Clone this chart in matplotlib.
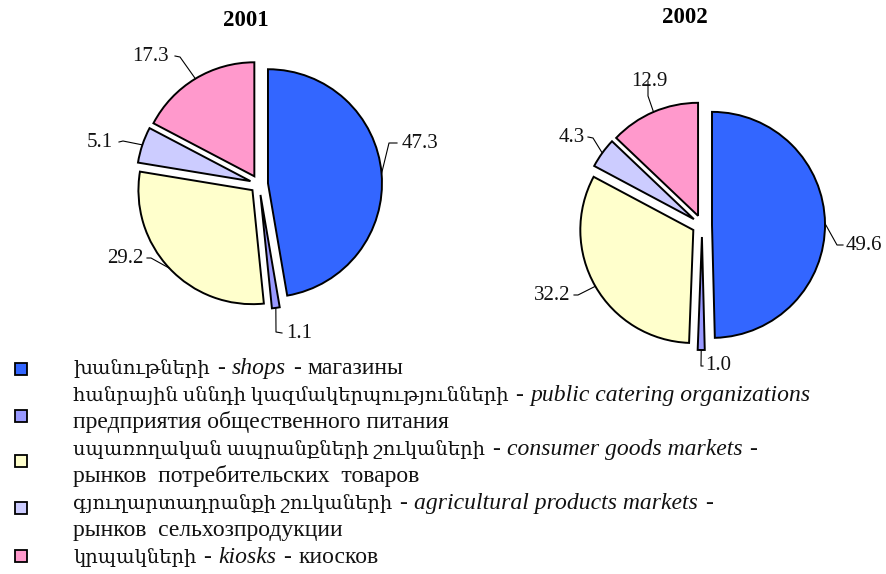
import matplotlib
matplotlib.use("Agg")
import numpy as np
import matplotlib.pyplot as plt
from matplotlib.patches import Rectangle

# shares, % (order: shops, catering, consumer goods mkts, agri mkts, kiosks)
vals_2001 = [47.3, 1.1, 29.2, 5.1, 17.3]
vals_2002 = [49.6, 1.0, 32.2, 4.3, 12.9]
years = ["2001", "2002"]
colors = ["#3366FF", "#9999FF", "#FFFFCC", "#CCCCFF", "#FF99CC"]

# legend rows: (text, kind) -> kind: "hy" armenian, "en" english italic, "ru" russian
legend_lines = [
    [("խանութների", "hy"), ("-", "ru"), ("shops", "en"), ("-", "ru"), ("магазины", "ru")],
    [("հանրային սննդի կազմակերպությունների", "hy"), ("-", "ru"),
     ("public catering organizations", "en")],
    [("предприятия общественного питания", "ru")],
    [("սպառողական ապրանքների շուկաների", "hy"), ("-", "ru"),
     ("consumer goods markets", "en"), ("-", "ru")],
    [("рынков  потребительских  товаров", "ru")],
    [("գյուղարտադրանքի շուկաների", "hy"), ("-", "ru"),
     ("agricultural products markets", "en"), ("-", "ru")],
    [("рынков  сельхозпродукции", "ru")],
    [("կրպակների", "hy"), ("-", "ru"), ("kiosks", "en"), ("-", "ru"), ("киосков", "ru")],
]

W, H = 887, 574
FONT = ["Liberation Serif", "DejaVu Serif"]
kind_style = {"hy": dict(fontsize=14, style="normal"),
              "ru": dict(fontsize=17, style="normal"),
              "en": dict(fontsize=17, style="italic")}

fig = plt.figure(figsize=(W / 100, H / 100), dpi=100)
ax = fig.add_axes([0, 0, 1, 1])


def Y(y):
    # pixel row -> data y
    return H - y


def draw_pie(vals, cx, cy, r, expl, labels_pos):
    wedges, _ = ax.pie(vals, colors=colors, startangle=90, counterclock=False,
                       center=(cx, Y(cy)), radius=r, explode=expl,
                       wedgeprops=dict(edgecolor="black", linewidth=1.4))
    for w, v, lp in zip(wedges, vals, labels_pos):
        (tx, ty, ha, ex, ey, kx) = lp
        mid = np.deg2rad((w.theta1 + w.theta2) / 2)
        px = w.center[0] + w.r * np.cos(mid)
        py = w.center[1] + w.r * np.sin(mid)
        ax.plot([px, ex, kx], [py, Y(ey), Y(ty)], color="black", lw=0.8)
        ax.text(tx, Y(ty), "%.1f" % v, ha=ha, va="center", fontsize=15,
                family=FONT, color="#111111")


# text x, text y, ha, elbow x, elbow y, tick end x
pos_2001 = [(402, 143, "left", 389, 143, 397),
            (286, 333, "left", 276, 332, 282),
            (144, 258, "right", 151, 258, 147),
            (113, 142, "right", 123, 141, 119),
            (169, 56, "right", 180, 57, 175)]
pos_2002 = [(846, 245, "left", 837, 245, 843),
            (705, 366, "left", 701, 366, 703),
            (570, 295, "right", 578, 295, 574),
            (585, 137, "right", 593, 138, 588),
            (649, 81, "center", 648, 96, 648)]

draw_pie(vals_2001, 259, 184, 114, [9, 11, 9, 9, 9], pos_2001)
draw_pie(vals_2002, 702, 225, 113, [10, 12, 10, 10, 10], pos_2002)

ax.text(246, Y(20), years[0], ha="center", va="center", fontsize=16.5,
        fontweight="bold", family=FONT)
ax.text(685, Y(17), years[1], ha="center", va="center", fontsize=16.5,
        fontweight="bold", family=FONT)

# legend
marker_y = [369, 416, 461, 508, 556]
for c, my in zip(colors, marker_y):
    ax.add_patch(Rectangle((15, Y(my) - 6), 12, 12, facecolor=c,
                           edgecolor="black", lw=1.3))

fig.canvas.draw()
renderer = fig.canvas.get_renderer()
base_y = [374, 401, 428, 455, 482, 509, 536, 563]
for line, by in zip(legend_lines, base_y):
    x = 73
    for txt, kind in line:
        t = ax.text(x, Y(by), txt, ha="left", va="baseline", family=FONT,
                    color="#111111", **kind_style[kind])
        x += t.get_window_extent(renderer).width + 7

ax.set_xlim(0, W)
ax.set_ylim(0, H)
ax.set_aspect("equal")
ax.axis("off")
fig.savefig("out.png", dpi=100)
